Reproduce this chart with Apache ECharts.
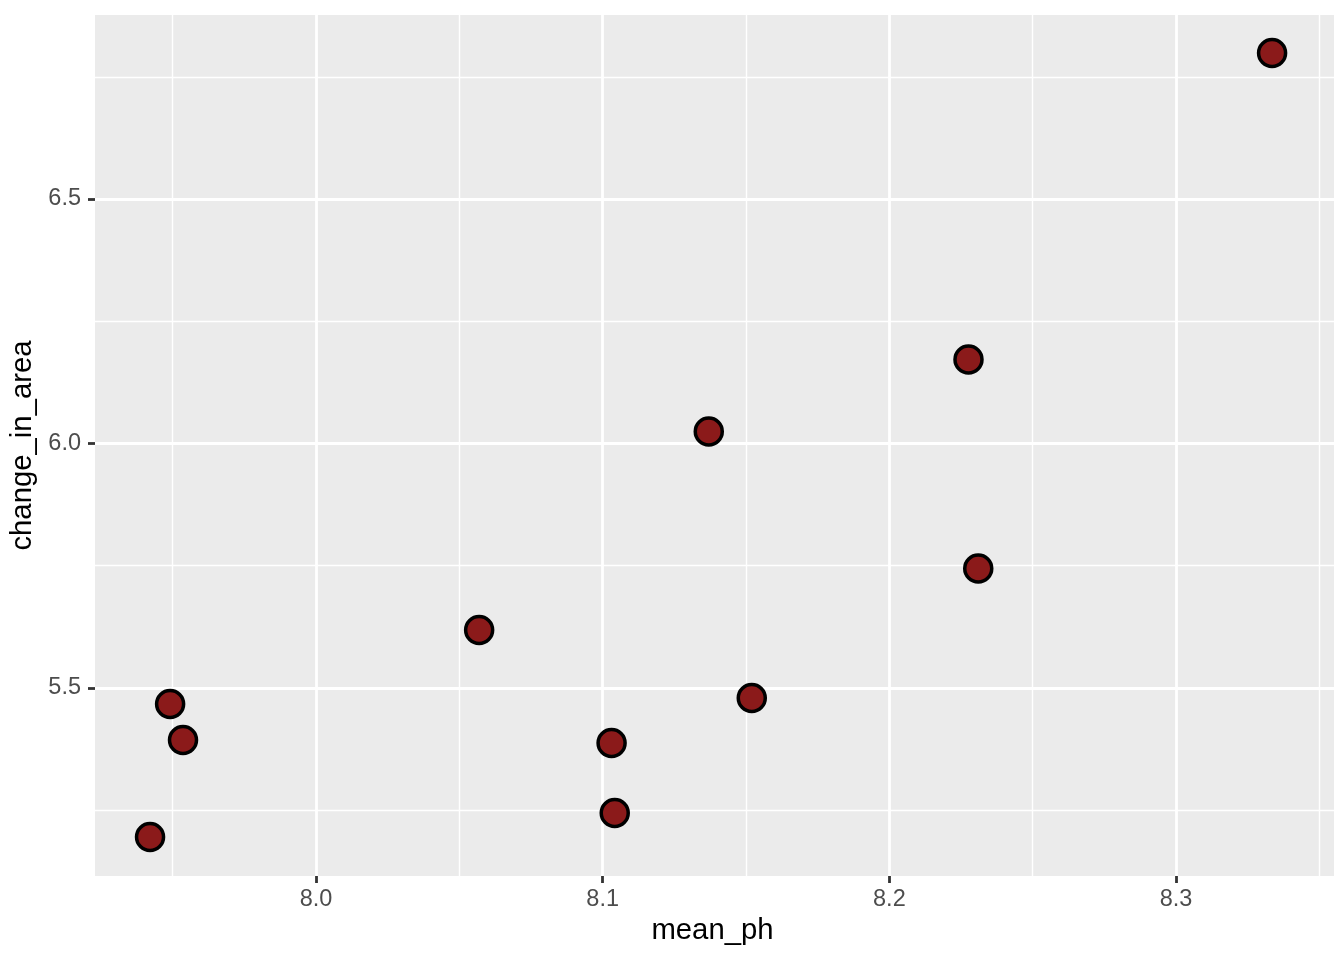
<!DOCTYPE html>
<html>
<head>
<meta charset="utf-8">
<script src="https://cdn.jsdelivr.net/npm/echarts@6/dist/echarts.min.js"></script>
<style>
html,body{margin:0;padding:0;background:#fff;}
#chart{width:1344px;height:960px;}
</style>
</head>
<body>
<div id="chart"></div>
<script>
var meanPh = [7.9421, 7.9491, 7.9536, 8.0569, 8.1031, 8.1042, 8.1370, 8.1520, 8.2276, 8.2310, 8.3335];
var changeInArea = [5.1953, 5.4673, 5.3937, 5.6186, 5.3875, 5.2444, 6.0245, 5.4796, 6.1718, 5.7444, 6.7986];
var xMajor = [8.0, 8.1, 8.2, 8.3];
var xMinor = [7.95, 8.05, 8.15, 8.25, 8.35];
var yMajor = [5.5, 6.0, 6.5];
var yMinor = [5.25, 5.75, 6.25, 6.75];
var xRange = [7.9229, 8.3551];
var yRange = [5.1155, 6.8763];

var points = meanPh.map(function (x, i) { return [x, changeInArea[i]]; });

var gridLines = [];
xMinor.forEach(function (v) { gridLines.push({ xAxis: v, lineStyle: { width: 1.4 } }); });
yMinor.forEach(function (v) { gridLines.push({ yAxis: v, lineStyle: { width: 1.4 } }); });
xMajor.forEach(function (v) { gridLines.push({ xAxis: v, lineStyle: { width: 2.8 } }); });
yMajor.forEach(function (v) { gridLines.push({ yAxis: v, lineStyle: { width: 2.8 } }); });

var chart = echarts.init(document.getElementById('chart'), null, { renderer: 'canvas' });
var labelFont = 'Liberation Sans, Arial, Helvetica, sans-serif';
chart.setOption({
  animation: false,
  backgroundColor: '#ffffff',
  grid: {
    left: 95, right: 10, top: 15, bottom: 84,
    show: true, backgroundColor: '#EBEBEB', borderWidth: 0
  },
  xAxis: {
    type: 'value',
    min: xRange[0], max: xRange[1],
    name: 'mean_ph', nameLocation: 'middle', nameGap: 38,
    nameTextStyle: { fontFamily: labelFont, fontSize: 29.3, color: '#000000', padding: [0, 4, 0, 0] },
    axisLine: { show: false },
    axisTick: { show: true, length: 7, customValues: xMajor, lineStyle: { color: '#333333', width: 2.8 } },
    axisLabel: { customValues: xMajor, margin: 12, fontFamily: labelFont, fontSize: 23.5, color: '#4D4D4D',
      formatter: function (v) { return v.toFixed(1); } },
    splitLine: { show: false }
  },
  yAxis: {
    type: 'value',
    min: yRange[0], max: yRange[1],
    name: 'change_in_area', nameLocation: 'middle', nameGap: 53,
    nameTextStyle: { fontFamily: labelFont, fontSize: 29.3, color: '#000000' },
    axisLine: { show: false },
    axisTick: { show: true, length: 7, customValues: yMajor, lineStyle: { color: '#333333', width: 2.8 } },
    axisLabel: { customValues: yMajor, margin: 14, fontFamily: labelFont, fontSize: 23.5, color: '#4D4D4D',
      formatter: function (v) { return v.toFixed(1); } },
    splitLine: { show: false }
  },
  series: [
    {
      type: 'scatter',
      z: 1,
      data: points,
      symbolSize: 0,
      silent: true,
      itemStyle: { opacity: 0 },
      markLine: {
        silent: true,
        symbol: ['none', 'none'],
        label: { show: false },
        lineStyle: { color: '#FFFFFF', type: 'solid' },
        emphasis: { disabled: true },
        data: gridLines
      }
    },
    {
      type: 'scatter',
      z: 5,
      data: points,
      symbol: 'circle',
      symbolSize: 27,
      itemStyle: { color: '#8B1A1A', borderColor: '#000000', borderWidth: 3.5, opacity: 1 }
    }
  ]
});
</script>
</body>
</html>
